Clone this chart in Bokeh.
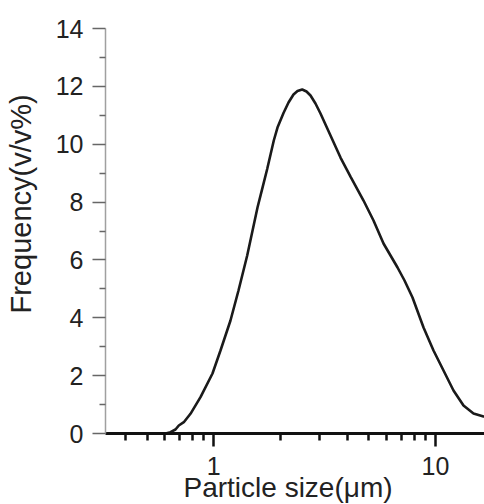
from bokeh.plotting import figure
from bokeh.models import Range1d, FixedTicker, CustomJSTickFormatter, Title, LinearAxis
from bokeh.embed import file_html
from bokeh.resources import INLINE

# Data
particle_size = [0.3248, 0.6054, 0.6377, 0.6717, 0.6953, 0.7324, 0.7849, 0.8710,
                 0.9866, 1.0720, 1.1893, 1.2924, 1.4148, 1.5746, 1.6532, 1.7413,
                 1.8648, 1.9378, 2.0629, 2.1727, 2.2886, 2.3855, 2.5046, 2.6189,
                 2.7305, 2.8751, 3.0288, 3.3604, 3.7282, 4.1362, 4.7349, 5.2527,
                 5.8277, 6.7408, 7.2479, 7.8760, 8.8308, 9.7949, 10.867, 12.055,
                 13.375, 14.838, 16.463, 16.7]
frequency = [0.0, 0.0, 0.045, 0.138, 0.277, 0.391, 0.681, 1.255,
             2.074, 2.869, 3.906, 4.943, 6.153, 7.812, 8.458, 9.143,
             10.128, 10.577, 11.078, 11.441, 11.718, 11.839, 11.891, 11.822,
             11.683, 11.407, 11.061, 10.301, 9.540, 8.883, 8.054, 7.362,
             6.568, 5.738, 5.289, 4.701, 3.664, 2.869, 2.178, 1.486,
             0.968, 0.691, 0.588, 0.585]

x_major = [1, 10]
x_minor = [0.4, 0.5, 0.6, 0.7, 0.8, 0.9, 2, 3, 4, 5, 6, 7, 8, 9]
y_major = [0, 2, 4, 6, 8, 10, 12, 14]
y_minor = [1, 3, 5, 7, 9, 11, 13]

x_title = "Particle size(μm)"
y_title = "Frequency(v/v%)"

FONT = "Liberation Sans"
TEXT = "#222222"

p = figure(width=484, height=504, x_axis_type="log",
           x_range=Range1d(0.32475, 16.635), y_range=Range1d(0, 14),
           output_backend="svg", toolbar_location=None,
           min_border_left=105, min_border_right=0,
           min_border_top=28, min_border_bottom=71)

p.line(particle_size, frequency, line_color="#1a1a1a", line_width=2.6)

p.grid.visible = False
p.outline_line_color = None

xa = p.xaxis[0]
xa.ticker = FixedTicker(ticks=x_major, minor_ticks=x_minor)
xa.formatter = CustomJSTickFormatter(code="return String(tick);")
xa.axis_line_color = "#111111"
xa.axis_line_width = 3
xa.major_tick_line_color = "#111111"
xa.major_tick_line_width = 2.5
xa.minor_tick_line_color = "#111111"
xa.minor_tick_line_width = 2.5
xa.major_tick_out = 13
xa.major_tick_in = 0
xa.minor_tick_out = 7
xa.minor_tick_in = 0
xa.major_label_standoff = 10
xa.major_label_text_font = FONT
xa.major_label_text_font_size = "25px"
xa.major_label_text_color = TEXT

ya = p.yaxis[0]
ya.ticker = FixedTicker(ticks=y_major, minor_ticks=y_minor)
ya.axis_line_color = "#a0a0a0"
ya.axis_line_width = 1.5
ya.major_tick_line_color = "#666666"
ya.major_tick_line_width = 1.5
ya.minor_tick_line_color = "#666666"
ya.minor_tick_line_width = 1.5
ya.major_tick_out = 13
ya.major_tick_in = 0
ya.minor_tick_out = 6
ya.minor_tick_in = 0
ya.major_label_standoff = 9
ya.major_label_text_font = FONT
ya.major_label_text_font_size = "25px"
ya.major_label_text_color = TEXT


def spacer_axis(size, at):
    # blank axis (white tick, empty label): it only reserves room
    return LinearAxis(ticker=FixedTicker(ticks=[at]), axis_line_color=None,
                      major_tick_out=size, major_tick_in=0,
                      minor_tick_out=0, minor_tick_in=0,
                      major_tick_line_color="white", major_tick_line_width=1,
                      minor_tick_line_color=None,
                      formatter=CustomJSTickFormatter(code="return '';"),
                      major_label_standoff=0)


p.add_layout(spacer_axis(16, 13.9), "left")
p.add_layout(Title(text=y_title, align="left", offset=120,
                   vertical_align="bottom", standoff=0,
                   text_font=FONT, text_font_size="29px",
                   text_font_style="normal", text_color=TEXT), "left")

p.add_layout(spacer_axis(14, 0.34), "below")
p.add_layout(Title(text=x_title, align="left", offset=78,
                   vertical_align="top", standoff=-40,
                   text_font=FONT, text_font_size="28px",
                   text_font_style="normal", text_color=TEXT), "below")

open("out.html", "w").write(file_html(p, INLINE))
